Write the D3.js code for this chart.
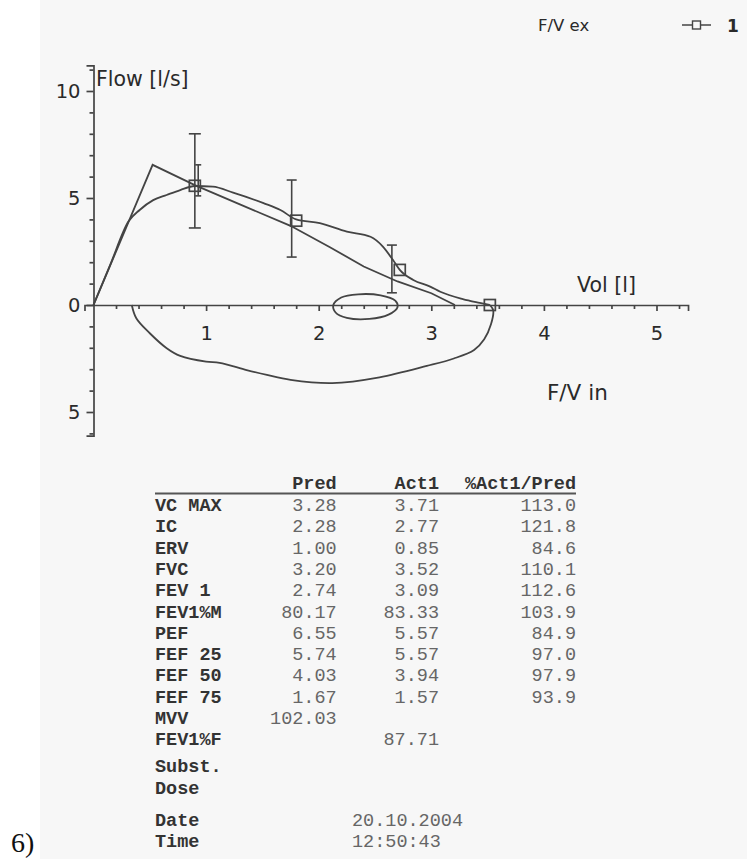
<!DOCTYPE html>
<html>
<head>
<meta charset="utf-8">
<script src="https://cdn.jsdelivr.net/npm/d3@7"></script>
<style>
  html, body { margin: 0; padding: 0; background: #fff; }
  svg { display: block; }
</style>
</head>
<body>
<div id="chart"></div>
<script>
// predicted flow-volume curve (expiration)
const predVol  = [0, 0.525, 0.9, 1.3, 1.75, 2.1, 2.4, 2.7, 3.0, 3.21];
const predFlow = [0, 6.55, 5.6, 4.7, 3.7, 2.7, 1.8, 1.1, 0.55, 0];

// measured expiration
const actVol  = [0, 0.15, 0.31, 0.41, 0.53, 0.65, 0.77, 0.9, 1.06, 1.24, 1.51, 1.66, 1.8, 2.01, 2.25, 2.46, 2.57, 2.66, 2.72, 2.84, 2.99, 3.08, 3.28, 3.43, 3.52];
const actFlow = [0, 1.9, 3.9, 4.44, 4.9, 5.14, 5.37, 5.56, 5.53, 5.25, 4.76, 4.44, 4.0, 3.83, 3.43, 3.19, 2.73, 2.1, 1.64, 1.17, 0.86, 0.62, 0.28, 0.1, 0];

// inspiration (drawn below the axis)
const inspVol  = [0.34, 0.38, 0.5, 0.65, 0.77, 1.0, 1.12, 1.36, 1.54, 1.75, 2.12, 2.54, 2.96, 3.2, 3.38, 3.47, 3.53, 3.55, 3.52];
const inspFlow = [0, -0.62, -1.32, -2.02, -2.38, -2.65, -2.7, -3.04, -3.27, -3.5, -3.65, -3.38, -2.85, -2.5, -2.1, -1.6, -0.9, -0.25, 0];

// tidal loop
const tidalVol  = [2.13, 2.2, 2.35, 2.55, 2.68, 2.7, 2.62, 2.45, 2.25, 2.15];
const tidalFlow = [0, 0.35, 0.5, 0.45, 0.2, -0.1, -0.45, -0.65, -0.6, -0.35];

// square markers on curve 1
const markVol  = [0.9, 1.8, 2.72, 3.52];
const markFlow = [5.57, 3.94, 1.64, 0];

// predicted ranges
const barVol  = [0.9, 0.93, 1.76, 2.65];
const barLow  = [3.6, 5.1, 2.24, 0.57];
const barHigh = [8.0, 6.55, 5.84, 2.8];
const barCap  = [12, 6, 10, 10];

// table
const rowNames = ["VC MAX", "IC", "ERV", "FVC", "FEV 1", "FEV1%M", "PEF", "FEF 25", "FEF 50", "FEF 75", "MVV", "FEV1%F"];
const predVals = ["3.28", "2.28", "1.00", "3.20", "2.74", "80.17", "6.55", "5.74", "4.03", "1.67", "102.03", ""];
const actVals  = ["3.71", "2.77", "0.85", "3.52", "3.09", "83.33", "5.57", "5.57", "3.94", "1.57", "", "87.71"];
const pctVals  = ["113.0", "121.8", "84.6", "110.1", "112.6", "103.9", "84.9", "97.0", "97.9", "93.9", "", ""];
const extraNames = ["Subst.", "Dose"];
const stampNames = ["Date", "Time"];
const stampVals  = ["20.10.2004", "12:50:43"];

const W = 747, H = 859;
const ink = "#444";
const sans = "'DejaVu Sans', Verdana, sans-serif";
const mono = "'Liberation Mono', 'Courier New', monospace";

const svg = d3.select("#chart").append("svg")
    .attr("width", W).attr("height", H);

// scanned paper tone
svg.append("rect").attr("x", 40).attr("y", 0).attr("width", W - 40).attr("height", H)
    .attr("fill", "#f7f7f7");

const x = d3.scaleLinear().domain([0, 5]).range([93.5, 656.5]);
const y = d3.scaleLinear().domain([-5, 10]).range([412, 91]);

// --- axes ---
const xAxisScale = x.copy().domain([-0.08, 5.28]).range([x(-0.08), x(5.28)]);
const yAxisScale = y.copy().domain([-6.1, 11.2]).range([y(-6.1), y(11.2)]);

const xMinor = d3.range(1, 27).map(i => i * 0.2).filter(v => Math.abs(v - Math.round(v)) > 0.01);
const yMinor = d3.range(-6, 12).filter(v => v % 5 !== 0);

svg.append("g").attr("transform", `translate(0,${y(0)})`)
    .call(d3.axisBottom(xAxisScale).tickValues([1, 2, 3, 4, 5]).tickSize(6).tickPadding(15)
        .tickFormat(d3.format("d")));
svg.append("g").attr("transform", `translate(0,${y(0)})`)
    .call(d3.axisBottom(x).tickValues(xMinor).tickSize(4).tickFormat(""))
    .select(".domain").remove();

svg.append("g").attr("transform", `translate(${x(0)},0)`)
    .call(d3.axisLeft(yAxisScale).tickValues([-5, 0, 5, 10]).tickSize(7).tickPadding(6)
        .tickFormat(d => Math.abs(d)));
svg.append("g").attr("transform", `translate(${x(0)},0)`)
    .call(d3.axisLeft(y).tickValues(yMinor).tickSize(4).tickFormat(""))
    .select(".domain").remove();

svg.selectAll(".domain, .tick line").attr("stroke", ink).attr("stroke-width", 1.7);
svg.selectAll(".tick text").attr("font-family", sans).attr("font-size", 19.5)
    .attr("fill", "#2a2a2a");

// axis titles
svg.append("text").attr("x", 96).attr("y", 86).text("Flow [l/s]")
    .attr("font-family", sans).attr("font-size", 20.5).attr("fill", "#2a2a2a");
svg.append("text").attr("x", 577).attr("y", 292).text("Vol [l]")
    .attr("font-family", sans).attr("font-size", 20.5).attr("fill", "#2a2a2a");
svg.append("text").attr("x", 547).attr("y", 400).text("F/V in")
    .attr("font-family", sans).attr("font-size", 21.5).attr("fill", "#2a2a2a");

// --- curves ---
const toPts = (vs, fs) => vs.map((v, i) => [v, fs[i]]);
const lineLin = d3.line().x(d => x(d[0])).y(d => y(d[1]));
const lineSmooth = d3.line().x(d => x(d[0])).y(d => y(d[1])).curve(d3.curveCatmullRom);

const curves = svg.append("g").attr("fill", "none").attr("stroke", ink).attr("stroke-width", 1.8);
curves.append("path").attr("d", lineLin(toPts(predVol, predFlow)));
curves.append("path").attr("d", d3.line().x(d => x(d[0])).y(d => y(d[1]))
    .curve(d3.curveMonotoneX)(toPts(actVol, actFlow)));
curves.append("path").attr("d", lineSmooth(toPts(inspVol, inspFlow)));
curves.append("path").attr("d", d3.line().x(d => x(d[0])).y(d => y(d[1]))
    .curve(d3.curveCatmullRomClosed)(toPts(tidalVol, tidalFlow)));

// --- predicted range bars ---
const bars = svg.append("g").attr("stroke", ink).attr("stroke-width", 1.6);
barVol.forEach((v, i) => {
    const bx = x(v);
    bars.append("line").attr("x1", bx).attr("x2", bx).attr("y1", y(barLow[i])).attr("y2", y(barHigh[i]));
    [barLow[i], barHigh[i]].forEach(f => {
        bars.append("line").attr("x1", bx - barCap[i] / 2).attr("x2", bx + barCap[i] / 2)
            .attr("y1", y(f)).attr("y2", y(f));
    });
});

// --- markers ---
svg.append("g").selectAll("rect")
    .data(toPts(markVol, markFlow))
    .join("rect")
    .attr("x", d => x(d[0]) - 5.5).attr("y", d => y(d[1]) - 5.5)
    .attr("width", 11).attr("height", 11)
    .attr("fill", "none").attr("stroke", ink).attr("stroke-width", 1.7);

// --- legend ---
svg.append("text").attr("x", 538).attr("y", 31).text("F/V ex")
    .attr("font-family", sans).attr("font-size", 16.5).attr("fill", "#2a2a2a");
svg.append("line").attr("x1", 682).attr("x2", 711).attr("y1", 25).attr("y2", 25)
    .attr("stroke", ink).attr("stroke-width", 1.5);
svg.append("rect").attr("x", 692.5).attr("y", 21).attr("width", 8).attr("height", 8)
    .attr("fill", "#f7f7f7").attr("stroke", ink).attr("stroke-width", 1.4);
svg.append("text").attr("x", 727).attr("y", 32).text("1")
    .attr("font-family", sans).attr("font-size", 17).attr("font-weight", "bold").attr("fill", "#2a2a2a");

// --- table ---
const tbl = svg.append("g").attr("font-family", mono).attr("font-size", 18.5);
const colRight = [336.7, 439, 576];
const labX = 155;
const headY = 489;
const rowY0 = 511, rowStep = 21.3;

["Pred", "Act1", "%Act1/Pred"].forEach((h, i) => {
    tbl.append("text").attr("x", colRight[i]).attr("y", headY).attr("text-anchor", "end")
        .attr("font-weight", "bold").attr("fill", "#333").text(h);
});
tbl.append("line").attr("x1", labX).attr("x2", 576).attr("y1", 493.5).attr("y2", 493.5)
    .attr("stroke", "#555").attr("stroke-width", 2);

rowNames.forEach((name, i) => {
    const ry = rowY0 + i * rowStep;
    tbl.append("text").attr("x", labX).attr("y", ry).attr("font-weight", "bold")
        .attr("fill", "#333").text(name);
    [predVals[i], actVals[i], pctVals[i]].forEach((v, j) => {
        if (!v) return;
        tbl.append("text").attr("x", colRight[j]).attr("y", ry).attr("text-anchor", "end")
            .attr("fill", "#666").text(v);
    });
});
extraNames.forEach((name, i) => {
    tbl.append("text").attr("x", labX).attr("y", 772 + i * 22).attr("font-weight", "bold")
        .attr("fill", "#333").text(name);
});
stampNames.forEach((name, i) => {
    const ry = 826 + i * 21.3;
    tbl.append("text").attr("x", labX).attr("y", ry).attr("font-weight", "bold")
        .attr("fill", "#333").text(name);
    tbl.append("text").attr("x", 352).attr("y", ry).attr("fill", "#666").text(stampVals[i]);
});

// panel tag
svg.append("text").attr("x", 11).attr("y", 852).text("6)")
    .attr("font-family", "'Liberation Serif', 'Times New Roman', serif")
    .attr("font-size", 28).attr("fill", "#111");
</script>
</body>
</html>
